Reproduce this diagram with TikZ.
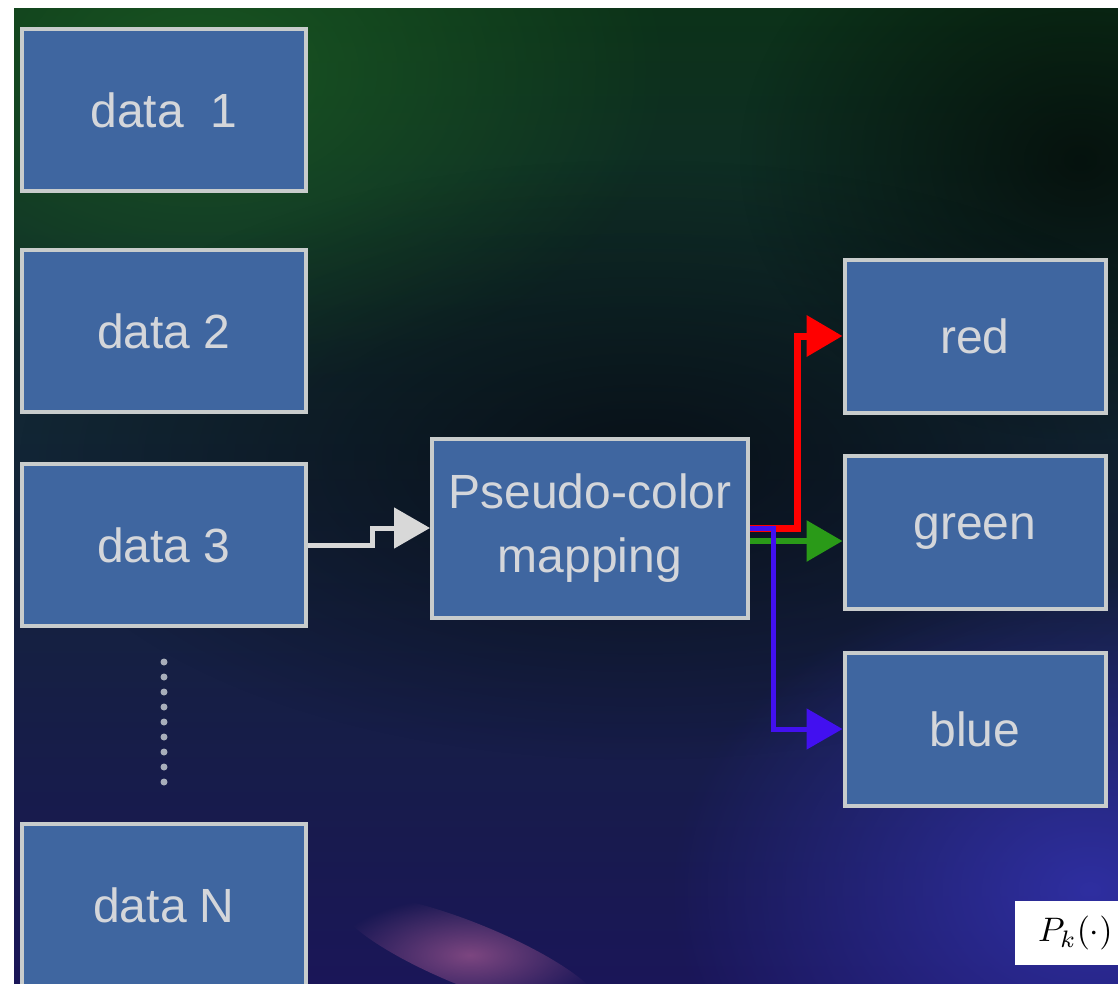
\documentclass[tikz,border=0pt]{standalone}
\usepackage{fontspec}
\setmainfont{Liberation Sans}
\usetikzlibrary{arrows.meta, fadings}
\usepackage{xcolor}
\definecolor{boxfill}{HTML}{3F66A0}
\definecolor{boxline}{HTML}{C8CCCC}
\definecolor{boxtext}{HTML}{D4D6DA}
\definecolor{bgtop}{HTML}{0C3219}
\definecolor{bgmid}{HTML}{040A14}
\definecolor{bgbot}{HTML}{1A1658}
\definecolor{glowgreen}{HTML}{1C5E24}
\definecolor{glowblue}{HTML}{3434B4}
\definecolor{glowpink}{HTML}{A65A92}
\definecolor{dotgray}{HTML}{A8AEBA}
\definecolor{chred}{HTML}{FF0000}
\definecolor{chgreen}{HTML}{2A9A18}
\definecolor{chblue}{HTML}{4210F0}
\definecolor{flowgray}{HTML}{D8D8D8}
\tikzfading[name=soft edge, inner color=transparent!0, outer color=transparent!100]

\begin{document}
\begin{tikzpicture}[x=1pt, y=-1pt, thick,
  databox/.style={rectangle, draw=boxline, line width=4pt, fill=boxfill,
    minimum width=284pt, minimum height=162pt, inner sep=0pt,
    text=boxtext, font=\fontsize{48}{64}\selectfont},
  mapbox/.style={databox, minimum width=316pt, minimum height=179pt, align=center},
  chanbox/.style={databox, minimum width=261pt, minimum height=153pt},
  flow/.style={line width=#1, -{Triangle[length=36pt, width=40pt]}},
  glow/.style={path fading=soft edge, fill=#1}]
  \useasboundingbox (0,0) rectangle (1118,983);
  \clip (0,0) rectangle (1118,983);

  \begin{scope}
    \clip (14,8) rectangle (1118,983);
    \shade[top color=bgtop, middle color=bgmid, bottom color=bgbot] (14,8) rectangle (1118,983);
    \fill[glow=glowgreen, opacity=0.8] (200,70) ellipse (470 and 320);
    \fill[glow=black, opacity=0.6] (1080,160) ellipse (340 and 280);
    \fill[glow=black, opacity=0.55] (640,460) ellipse (620 and 300);
    \fill[glow=glowblue, opacity=0.8] (1090,890) ellipse (420 and 320);
    \fill[glow=glowpink, opacity=0.7, rotate around={-22:(470,955)}] (470,955) ellipse (140 and 32);
  \end{scope}

  \node[databox] (data1) at (164,110) {data\ \ 1};
  \node[databox] (data2) at (164,331) {data 2};
  \node[databox] (data3) at (164,545) {data 3};
  \node[databox] (dataN) at (164,905) {data N};
  \node[mapbox] (mapping) at (590,528) {Pseudo-color\\mapping};
  \node[chanbox] (outred) at (975,336) {red};
  \node[chanbox] (outgreen) at (975,532) {green};
  \node[chanbox] (outblue) at (975,729) {blue};
  \node[anchor=north west, fill=white, minimum width=120pt, minimum height=64pt,
    inner sep=4pt, text=black] (formula) at (1015,901) {\scalebox{3.4}{$P_k(\cdot)$}};

  \draw[dotgray, line width=7pt, line cap=round, dash pattern=on 0pt off 15pt]
    ([yshift=-34pt]data3.south) -- ([yshift=30pt]dataN.north);

  \draw[flow=5pt, flowgray] (data3.east) -- ++(64,0) |- (mapping);
  \draw[flow=7pt, chred] (mapping.east) -- ++(47,0) |- (outred);
  \draw[flow=6pt, chgreen] ([yshift=-13pt]mapping.east) -- ([yshift=-13pt]mapping.east -| outgreen.west);
  \draw[flow=5pt, chblue] (mapping.east) -- ++(23,0) |- (outblue);
\end{tikzpicture}
\end{document}
